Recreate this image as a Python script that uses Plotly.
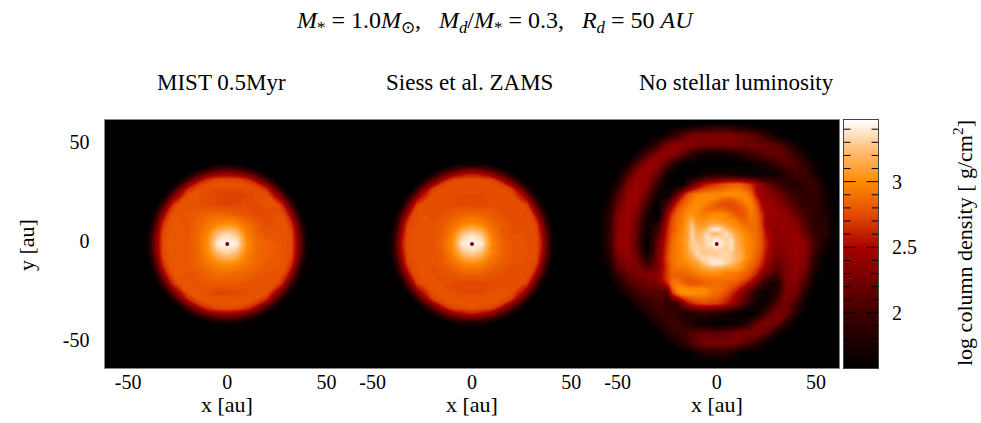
import numpy as np
import plotly.graph_objects as go

W, H = 981, 423

# log column density, rows from top to bottom
_ = 1.58
# disc grid: closer nodes around the disc rim so the rim stays round
DISC_X = [-42.5, -40, -37.5, -35, -32.5, -30, -27.5, -25, -20, -15, -10, -5, 0, 5, 10, 15, 20, 25, 27.5, 30, 32.5, 35, 37.5, 40, 42.5]
DISC_Y = DISC_X[::-1]
CORE_X = [-10, -7.5, -5, -2.5, 0, 2.5, 5, 7.5, 10]
CORE_Y = CORE_X[::-1]
# third panel has a grid that is finer inside +-25 au
NOLUM_X = [-60, -55, -50, -45, -40, -35, -30, -25, -22.5, -20, -17.5, -15, -12.5, -10, -7.5, -5, -2.5, 0,
           2.5, 5, 7.5, 10, 12.5, 15, 17.5, 20, 22.5, 25, 30, 35, 40, 45, 50, 55, 60]
NOLUM_Y = NOLUM_X[::-1]

mist = [
    [_]*25,
    [_]*10 + [1.6,1.66,1.68,1.66,1.6] + [_]*10,
    [_]*9 + [1.65,1.85,2.05,2.1,2.05,1.85,1.65] + [_]*9,
    [_]*8 + [1.66,2.0,2.29,2.43,2.48,2.43,2.29,2.0,1.66] + [_]*8,
    [_]*7 + [1.6,1.98,2.38,2.65,2.74,2.75,2.74,2.65,2.38,1.98,1.6] + [_]*7,
    [_]*6 + [1.62,1.78,2.35,2.68,2.78,2.79,2.79,2.79,2.78,2.68,2.35,1.78,1.62] + [_]*6,
    [_]*5 + [1.62,1.82,2.17,2.65,2.78,2.78,2.76,2.75,2.76,2.78,2.78,2.65,2.17,1.82,1.62] + [_]*5,
    [_]*4 + [1.6,1.78,2.17,2.43,2.77,2.79,2.76,2.74,2.73,2.73,2.74,2.78,2.77,2.43,2.17,1.78,1.6] + [_]*4,
    [_]*3 + [1.66,1.98,2.35,2.65,2.77,2.8,2.78,2.76,2.74,2.73,2.74,2.76,2.76,2.8,2.77,2.65,2.35,1.98,1.66] + [_]*3,
    [_]*2 + [1.65,2.0,2.38,2.68,2.78,2.8,2.8,2.82,2.85,2.87,2.85,2.82,2.79,2.76,2.76,2.78,2.78,2.68,2.38,2.0,1.65] + [_]*2,
    [_,1.6,1.85,2.29,2.65,2.78,2.8,2.81,2.79,2.85,2.92,2.98,3.02,2.98,2.9,2.82,2.77,2.79,2.79,2.78,2.65,2.29,1.85,1.6,_],
    [_,1.66,2.05,2.43,2.74,2.79,2.81,2.82,2.8,2.87,2.98,3.25,3.35,3.25,2.95,2.85,2.79,2.8,2.8,2.79,2.74,2.43,2.05,1.66,_],
    [_,1.68,2.1,2.48,2.75,2.8,2.81,2.82,2.81,2.87,3.02,3.4,3.45,3.4,3.0,2.87,2.85,2.81,2.8,2.79,2.75,2.48,2.1,1.68,_],
    [_,1.66,2.05,2.43,2.74,2.79,2.81,2.82,2.81,2.85,2.98,3.2,3.3,3.2,2.96,2.87,2.84,2.81,2.8,2.79,2.74,2.43,2.05,1.66,_],
    [_,1.6,1.85,2.29,2.65,2.78,2.8,2.82,2.81,2.85,2.92,2.98,3.02,2.98,2.92,2.87,2.82,2.81,2.8,2.78,2.65,2.29,1.85,1.6,_],
    [_]*2 + [1.65,2.0,2.38,2.68,2.78,2.82,2.79,2.81,2.85,2.89,2.89,2.87,2.85,2.82,2.79,2.79,2.78,2.68,2.38,2.0,1.65] + [_]*2,
    [_]*3 + [1.66,1.98,2.35,2.65,2.77,2.81,2.79,2.81,2.82,2.82,2.82,2.79,2.77,2.79,2.77,2.65,2.35,1.98,1.66] + [_]*3,
    [_]*4 + [1.6,1.78,2.17,2.43,2.77,2.81,2.77,2.73,2.73,2.75,2.77,2.81,2.77,2.43,2.17,1.78,1.6] + [_]*4,
    [_]*5 + [1.62,1.82,2.17,2.65,2.78,2.8,2.8,2.8,2.8,2.8,2.78,2.65,2.17,1.82,1.62] + [_]*5,
    [_]*6 + [1.62,1.78,2.35,2.68,2.78,2.8,2.8,2.8,2.78,2.68,2.35,1.78,1.62] + [_]*6,
    [_]*7 + [1.6,1.98,2.38,2.65,2.74,2.76,2.74,2.65,2.38,1.98,1.6] + [_]*7,
    [_]*8 + [1.66,2.0,2.29,2.43,2.48,2.43,2.29,2.0,1.66] + [_]*8,
    [_]*9 + [1.65,1.85,2.05,2.1,2.05,1.85,1.65] + [_]*9,
    [_]*10 + [1.6,1.66,1.68,1.66,1.6] + [_]*10,
    [_]*25,
]

siess = [
    [_]*25,
    [_]*10 + [1.64,1.72,1.75,1.72,1.64] + [_]*10,
    [_]*9 + [1.71,1.99,2.15,2.2,2.15,1.99,1.71] + [_]*9,
    [_]*8 + [1.72,2.1,2.38,2.53,2.6,2.53,2.38,2.1,1.72] + [_]*8,
    [_]*7 + [1.65,2.09,2.46,2.72,2.76,2.78,2.76,2.72,2.46,2.09,1.65] + [_]*7,
    [_]*6 + [1.67,1.93,2.42,2.73,2.77,2.77,2.77,2.77,2.77,2.73,2.42,1.93,1.67] + [_]*6,
    [_]*5 + [1.67,1.97,2.27,2.72,2.77,2.77,2.77,2.77,2.77,2.77,2.77,2.72,2.27,1.97,1.67] + [_]*5,
    [_]*4 + [1.65,1.93,2.27,2.53,2.77,2.78,2.77,2.76,2.76,2.76,2.77,2.78,2.77,2.53,2.27,1.93,1.65] + [_]*4,
    [_]*3 + [1.72,2.09,2.42,2.72,2.77,2.78,2.77,2.76,2.75,2.74,2.75,2.77,2.77,2.78,2.77,2.72,2.42,2.09,1.72] + [_]*3,
    [_]*2 + [1.71,2.1,2.46,2.73,2.77,2.78,2.78,2.78,2.82,2.85,2.87,2.85,2.82,2.78,2.78,2.78,2.77,2.73,2.46,2.1,1.71] + [_]*2,
    [_,1.64,1.99,2.38,2.72,2.77,2.78,2.79,2.78,2.81,2.88,2.96,3.0,2.96,2.88,2.81,2.78,2.78,2.78,2.77,2.72,2.38,1.99,1.64,_],
    [_,1.72,2.15,2.53,2.76,2.78,2.79,2.8,2.78,2.83,2.96,3.25,3.35,3.25,2.94,2.83,2.78,2.78,2.78,2.78,2.76,2.53,2.15,1.72,_],
    [_,1.75,2.2,2.6,2.78,2.78,2.79,2.8,2.78,2.85,3.0,3.4,3.45,3.4,2.98,2.85,2.8,2.79,2.78,2.78,2.78,2.6,2.2,1.75,_],
    [_,1.72,2.15,2.53,2.76,2.78,2.79,2.79,2.78,2.82,2.96,3.2,3.3,3.2,2.96,2.85,2.8,2.79,2.78,2.78,2.76,2.53,2.15,1.72,_],
    [_,1.64,1.99,2.38,2.72,2.77,2.78,2.79,2.78,2.81,2.88,2.96,3.0,2.96,2.88,2.83,2.78,2.78,2.78,2.77,2.72,2.38,1.99,1.64,_],
    [_]*2 + [1.71,2.1,2.46,2.73,2.77,2.79,2.78,2.78,2.8,2.84,2.84,2.84,2.8,2.78,2.78,2.78,2.77,2.73,2.46,2.1,1.71] + [_]*2,
    [_]*3 + [1.72,2.09,2.42,2.72,2.77,2.79,2.78,2.76,2.74,2.74,2.74,2.76,2.76,2.78,2.77,2.72,2.42,2.09,1.72] + [_]*3,
    [_]*4 + [1.65,1.93,2.27,2.53,2.77,2.79,2.78,2.76,2.76,2.76,2.78,2.8,2.77,2.53,2.27,1.93,1.65] + [_]*4,
    [_]*5 + [1.67,1.97,2.27,2.72,2.78,2.79,2.79,2.79,2.79,2.79,2.78,2.72,2.27,1.97,1.67] + [_]*5,
    [_]*6 + [1.67,1.93,2.42,2.73,2.78,2.79,2.79,2.79,2.78,2.73,2.42,1.93,1.67] + [_]*6,
    [_]*7 + [1.65,2.09,2.46,2.72,2.76,2.78,2.76,2.72,2.46,2.09,1.65] + [_]*7,
    [_]*8 + [1.72,2.1,2.38,2.53,2.6,2.53,2.38,2.1,1.72] + [_]*8,
    [_]*9 + [1.71,1.99,2.15,2.2,2.15,1.99,1.71] + [_]*9,
    [_]*10 + [1.64,1.72,1.75,1.72,1.64] + [_]*10,
    [_]*25,
]

# cores need a finer grid than the discs
mist_core = [
    [2.92,2.95,2.98,3.0,3.02,3.0,2.98,2.95,2.9],
    [2.95,3.0,3.08,3.15,3.18,3.15,3.08,3.0,2.92],
    [2.98,3.08,3.2,3.3,3.33,3.3,3.2,3.08,2.95],
    [3.0,3.15,3.3,3.42,3.45,3.42,3.3,3.15,2.98],
    [3.02,3.18,3.33,3.45,3.47,3.45,3.33,3.18,3.0],
    [3.0,3.15,3.3,3.42,3.45,3.42,3.3,3.15,2.98],
    [2.98,3.08,3.2,3.3,3.33,3.3,3.2,3.08,2.96],
    [2.95,3.0,3.08,3.15,3.18,3.15,3.08,3.0,2.94],
    [2.92,2.95,2.98,3.0,3.02,3.0,2.98,2.95,2.92],
]
siess_core = [
    [2.88,2.92,2.96,2.98,3.0,2.98,2.96,2.92,2.88],
    [2.92,2.98,3.06,3.12,3.16,3.12,3.06,2.98,2.9],
    [2.96,3.06,3.18,3.28,3.32,3.28,3.18,3.06,2.94],
    [2.98,3.12,3.28,3.42,3.45,3.42,3.28,3.12,2.96],
    [3.0,3.16,3.32,3.45,3.47,3.45,3.32,3.16,2.98],
    [2.98,3.12,3.28,3.42,3.45,3.42,3.28,3.12,2.96],
    [2.96,3.06,3.18,3.28,3.32,3.28,3.18,3.06,2.94],
    [2.92,2.98,3.06,3.12,3.16,3.12,3.06,2.98,2.9],
    [2.88,2.92,2.96,2.98,3.0,2.98,2.96,2.92,2.88],
]

nolum = [
    [_]*7 + [_,_,_,_,1.6,1.62,1.65,1.7,1.75,1.8,1.85,1.83,1.8,1.75,1.7,1.66,1.62,_,_,_,_] + [_]*7,
    [_]*7 + [1.75,1.88,2.0,2.1,2.2,2.26,2.3,2.3,2.3,2.3,2.3,2.3,2.3,2.28,2.25,2.22,2.2,2.15,2.1,2.0,1.9] + [1.7,_,_,_,_,_,_],
    [_,_,_,_,_,1.7,1.95] + [2.3,2.36,2.38,2.38,2.38,2.34,2.3,2.28,2.28,2.29,2.3,2.3,2.3,2.29,2.28,2.26,2.25,2.25,2.25,2.24,2.22] + [2.15,1.95,1.7,_,_,_,_],
    [_,_,_,_,1.75,2.1,2.35] + [2.4,2.36,2.3,2.18,2.05,1.92,1.8,1.74,1.7,1.67,1.65,1.67,1.7,1.75,1.8,1.88,1.95,2.0,2.05,2.1,2.15] + [2.2,2.15,1.95,1.7,_,_,_],
    [_,_,_,1.7,2.15,2.42,2.4] + [2.1,1.92,1.75,1.62,_,_,_,_,_,_,_,_,_,_,_,1.6,1.6,1.65,1.7,1.75,1.8] + [1.95,2.1,2.1,1.9,1.65,_,_],
    [_,_,1.62,2.05,2.4,2.42,2.2] + [1.75,1.62,_,_,_,_,1.62,1.7,1.75,1.78,1.8,1.8,1.8,1.78,1.75,1.72,1.7,1.68,1.65,1.65,1.65] + [1.7,1.85,2.0,2.0,1.75,_,_],
    [_,_,1.8,2.3,2.45,2.35,1.95] + [1.6,_,_,1.62,1.9,2.15,2.35,2.5,2.6,2.66,2.7,2.76,2.8,2.83,2.85,2.82,2.75,2.65,2.5,2.38,2.25] + [2.05,1.9,1.85,1.95,1.95,1.65,_],
    [_,1.62,2.05,2.4,2.45,2.2,1.7] + [1.7,1.9,2.2,2.5,2.75,2.88,2.95,2.98,3.0,3.0,3.0,3.0,3.02,3.02,3.02,3.0,2.95,2.85,2.55,2.45,2.4] + [2.3,2.1,1.95,1.9,1.95,1.7,_],
    [_,1.66,2.12,2.42,2.44,2.1,1.65] + [1.85,2.15,2.45,2.7,2.85,2.92,2.98,3.0,3.0,2.98,2.95,2.88,2.85,2.85,2.9,2.95,3.0,2.92,2.7,2.48,2.42] + [2.35,2.18,2.0,1.92,1.92,1.72,_],
    [_,1.7,2.2,2.45,2.4,2.0,1.6] + [2.05,2.4,2.65,2.82,2.9,2.98,3.02,3.0,2.95,2.88,2.82,2.78,2.76,2.76,2.8,2.85,2.95,2.97,2.8,2.55,2.45] + [2.4,2.25,2.05,1.95,1.9,1.75,_],
    [_,1.75,2.25,2.45,2.35,1.9,_] + [2.25,2.55,2.78,2.88,2.95,3.02,3.02,2.95,2.88,2.85,2.85,2.85,2.82,2.78,2.76,2.8,2.88,2.95,2.85,2.6,2.45] + [2.42,2.32,2.12,1.98,1.9,1.78,_],
    [_,1.8,2.3,2.45,2.3,1.8,_] + [2.4,2.68,2.85,2.92,3.0,3.05,3.0,2.95,2.95,2.98,3.0,3.0,2.95,2.88,2.8,2.78,2.85,2.95,2.88,2.68,2.48] + [2.45,2.4,2.2,2.0,1.9,1.8,1.6],
    [_,1.82,2.32,2.45,2.25,1.75,1.62] + [2.5,2.75,2.88,2.92,3.05,3.12,3.02,3.0,3.02,3.05,3.05,3.02,3.0,2.98,2.92,2.85,2.85,2.92,2.88,2.7,2.45] + [2.42,2.4,2.28,2.05,1.9,1.82,1.6],
    [_,1.85,2.35,2.45,2.2,1.7,1.85] + [2.55,2.78,2.9,2.95,3.08,3.25,3.08,3.05,3.1,3.15,3.15,3.12,3.08,3.02,3.0,2.92,2.88,2.9,2.88,2.72,2.45] + [2.4,2.42,2.35,2.1,1.9,1.85,1.6],
    [_,1.85,2.35,2.45,2.18,1.66,1.95] + [2.6,2.8,2.9,2.98,3.1,3.3,3.15,3.15,3.22,3.38,3.42,3.35,3.2,3.12,3.05,3.0,2.92,2.9,2.88,2.75,2.5] + [2.38,2.42,2.38,2.15,1.92,1.85,1.6],
    [_,1.85,2.35,2.45,2.15,1.62,2.05] + [2.62,2.82,2.92,3.0,3.1,3.33,3.2,3.22,3.35,3.25,3.22,3.28,3.38,3.25,3.12,3.05,2.98,2.92,2.88,2.78,2.55] + [2.35,2.4,2.42,2.2,1.95,1.85,1.6],
    [_,1.85,2.38,2.45,2.12,1.6,2.15] + [2.65,2.85,2.95,3.02,3.1,3.32,3.25,3.25,3.35,3.35,3.4,3.35,3.3,3.35,3.15,3.08,3.0,2.95,2.88,2.78,2.58] + [2.35,2.4,2.44,2.28,1.98,1.8,_],
    [_,1.85,2.4,2.45,2.1,_,2.2] + [2.68,2.88,2.95,3.02,3.12,3.3,3.3,3.25,3.35,3.4,3.45,3.4,3.32,3.38,3.18,3.1,3.0,2.95,2.9,2.8,2.6] + [2.35,2.38,2.45,2.35,2.0,1.75,_],
    [_,1.82,2.35,2.42,2.15,1.65,2.22] + [2.7,2.9,2.95,3.0,3.1,3.28,3.32,3.28,3.3,3.32,3.35,3.32,3.3,3.35,3.2,3.12,3.0,2.95,2.88,2.78,2.58] + [2.32,2.36,2.45,2.35,1.95,1.7,_],
    [_,1.8,2.3,2.4,2.2,1.7,2.25] + [2.72,2.9,2.95,3.0,3.08,3.2,3.35,3.3,3.28,3.28,3.28,3.32,3.35,3.28,3.2,3.15,3.02,2.95,2.85,2.75,2.55] + [2.3,2.35,2.45,2.35,1.9,1.65,_],
    [_,1.75,2.25,2.38,2.25,1.85,2.25] + [2.75,2.9,2.95,2.98,3.05,3.12,3.22,3.35,3.35,3.38,3.38,3.35,3.32,3.3,3.2,3.15,3.02,2.92,2.82,2.7,2.5] + [2.25,2.32,2.44,2.32,1.85,1.6,_],
    [_,1.7,2.2,2.35,2.3,2.0,2.25] + [2.72,2.88,2.95,2.95,3.0,3.05,3.1,3.2,3.3,3.38,3.4,3.38,3.3,3.22,3.15,3.05,2.95,2.88,2.8,2.65,2.45] + [2.2,2.3,2.42,2.3,1.8,_,_],
    [_,1.62,2.1,2.28,2.3,2.15,2.28] + [2.7,2.88,2.92,2.9,2.92,2.98,3.02,3.08,3.12,3.15,3.15,3.12,3.1,3.08,3.05,3.0,2.9,2.82,2.72,2.55,2.35] + [2.15,2.3,2.41,2.25,1.75,_,_],
    [_,_,2.0,2.2,2.3,2.3,2.35] + [2.7,2.85,2.85,2.85,2.88,2.9,2.95,2.98,3.0,3.02,3.02,3.0,2.95,2.93,2.92,2.88,2.82,2.75,2.62,2.42,2.25] + [2.05,2.3,2.4,2.2,1.7,_,_],
    [_,_,1.88,2.12,2.22,2.28,2.32] + [2.72,2.85,2.88,2.82,2.8,2.82,2.85,2.88,2.9,2.9,2.92,2.92,2.92,2.9,2.88,2.82,2.75,2.62,2.45,2.25,2.05] + [1.9,2.3,2.38,2.1,1.65,_,_],
    [_,_,1.75,2.05,2.15,2.25,2.3] + [2.6,2.9,2.95,2.9,2.82,2.8,2.8,2.82,2.85,2.87,2.88,2.87,2.85,2.82,2.78,2.7,2.58,2.42,2.25,2.05,1.9] + [1.75,2.3,2.35,2.0,1.62,_,_],
    [_,_,1.65,1.92,2.08,2.18,2.2] + [2.3,2.8,3.0,3.02,3.0,2.98,2.98,2.98,2.95,2.92,2.9,2.88,2.82,2.75,2.65,2.52,2.35,2.18,2.0,1.85,1.75] + [1.8,2.3,2.3,1.9,_,_,_],
    [_,_,_,1.8,2.0,2.1,2.1] + [2.1,2.6,2.88,3.0,3.03,3.03,3.02,3.0,2.98,2.9,2.88,2.82,2.75,2.65,2.52,2.38,2.2,2.0,1.85,1.72,1.65] + [1.9,2.3,2.25,1.8,_,_,_],
    [_,_,_,_,1.8,1.95,2.05] + [1.95,1.95,2.0,2.25,2.5,2.62,2.7,2.74,2.75,2.73,2.72,2.66,2.58,2.48,2.35,2.2,2.05,1.85,1.72,1.68,1.7] + [2.1,2.3,2.05,1.65,_,_,_],
    [_,_,_,_,_,1.8,1.95] + [2.0,1.95,1.9,1.85,1.8,1.82,1.85,1.88,1.9,1.88,1.85,1.8,1.75,1.7,1.65,1.6,_,1.6,1.65,1.85,2.05] + [2.3,2.25,1.85,_,_,_,_],
    [_,_,_,_,_,_,1.8] + [1.95,2.0,2.0,1.92,1.85,1.78,1.7,1.67,1.65,1.62,_,1.6,1.62,1.65,1.7,1.78,1.85,2.0,2.2,2.28,2.32] + [2.25,1.9,_,_,_,_,_],
    [_]*7 + [1.8,1.88,1.95,2.0,2.05,2.1,2.15,2.18,2.2,2.18,2.15,2.18,2.2,2.25,2.3,2.3,2.3,2.3,2.3,2.22,2.15] + [1.8,_,_,_,_,_,_],
    [_]*7 + [_,1.65,1.75,1.85,1.95,2.08,2.2,2.25,2.3,2.3,2.3,2.3,2.3,2.29,2.28,2.22,2.15,2.05,1.95,1.82,1.7] + [_]*7,
    [_]*7 + [_,_,_,_,1.6,1.66,1.75,1.8,1.85,1.88,1.9,1.88,1.85,1.78,1.72,1.62,_,_,_,_,_] + [_]*7,
    [_]*35,
]

STAR_X = [0]
STAR_Y = [0]
CBAR_TICKS = [2, 2.5, 3]
CBAR_LABELS = ["2", "2.5", "3"]
CBAR_MINOR = [1.6, 1.7, 1.8, 1.9, 2.1, 2.2, 2.3, 2.4, 2.6, 2.7, 2.8, 2.9, 3.1, 3.2, 3.3, 3.4]
Z_MIN, Z_MAX = 1.58, 3.47
PANEL_TICKS = [-50, 0, 50]
PANEL_LABELS = ["-50", "0", "50"]
PANEL_TITLES = ["MIST 0.5Myr", "Siess et al. ZAMS", "No stellar luminosity"]

SCALE = [
    [0.0, "#000000"], [0.22, "#3c0000"], [0.487, "#a80000"], [0.62, "#e34a00"],
    [0.75, "#ff8a00"], [0.885, "#ffc07c"], [1.0, "#ffffff"],
]
FONT = "Liberation Serif"
TOP, BOTTOM = 120, 368
# panels overlap by a pixel, otherwise a hairline of page shows between them
PANELS_PX = [(104.5, 350), (349, 595), (594, 839.5)]
CBAR_PX = (844, 878)
EDGE = "#888888"


def fx(px):
    return px / W


def fy(px):
    return 1 - px / H


fig = go.Figure()


def add_map(z, xs, ys, n):
    # filled contours with line smoothing keep the coarse discs round
    fig.add_trace(go.Contour(z=z, x=xs, y=ys, xaxis=f"x{n}", yaxis=f"y{n}", zmin=Z_MIN, zmax=Z_MAX, zauto=False,
                             colorscale=SCALE, showscale=False, hoverinfo="skip",
                             contours=dict(coloring="fill", start=1.6, end=3.46, size=0.02, showlines=False),
                             line=dict(width=0, smoothing=1.0)))


def add_core(z, n):
    # a contour patch leaves a dark hairline round it, the heatmap does not
    fig.add_trace(go.Heatmap(z=z, x=CORE_X, y=CORE_Y, xaxis=f"x{n}", yaxis=f"y{n}", zmin=Z_MIN, zmax=Z_MAX,
                             colorscale=SCALE, zsmooth="best", showscale=False, hoverinfo="skip"))


add_map(mist, DISC_X, DISC_Y, 1)
add_core(mist_core, 1)
add_map(siess, DISC_X, DISC_Y, 2)
add_core(siess_core, 2)
add_map(nolum, NOLUM_X, NOLUM_Y, 3)

for n in (1, 2, 3):
    fig.add_trace(go.Scatter(x=STAR_X, y=STAR_Y, xaxis=f"x{n}", yaxis=f"y{n}", mode="markers",
                             marker=dict(size=4, color="#8a0000"), showlegend=False, hoverinfo="skip"))

# colour bar drawn as its own little axis
levels = np.linspace(Z_MIN, Z_MAX, 150)
fig.add_trace(go.Heatmap(z=[[v, v] for v in levels], x=[0, 1], y=levels, xaxis="x4", yaxis="y4", zmin=Z_MIN, zmax=Z_MAX,
                         colorscale=SCALE, zsmooth="best", showscale=False, hoverinfo="skip"))


def tick_marks(vals, frac):
    # little black marks on both sides of the colour bar, on top of the heatmap
    xs, ys = [], []
    for v in vals:
        xs += [0, frac, None, 1 - frac, 1, None]
        ys += [v, v, None, v, v, None]
    fig.add_trace(go.Scatter(x=xs, y=ys, xaxis="x4", yaxis="y4", mode="lines", line=dict(color="black", width=1),
                             showlegend=False, hoverinfo="skip"))


tick_marks(CBAR_TICKS, 0.34)
tick_marks(CBAR_MINOR, 0.19)

# top ticks of the panels, only the one over the ring really shows
for n in (1, 2, 3):
    xs, ys = [], []
    for v in PANEL_TICKS:
        xs += [v, v, None]
        ys += [62.5, 59.5, None]
    fig.add_trace(go.Scatter(x=xs, y=ys, xaxis=f"x{n}", yaxis=f"y{n}", mode="lines", line=dict(color="black", width=1),
                             showlegend=False, hoverinfo="skip"))

layout = dict(
    width=W, height=H, margin=dict(l=0, r=0, t=0, b=0), paper_bgcolor="white", plot_bgcolor="black",
    font=dict(family=FONT, size=20, color="black"), showlegend=False,
)
for i, (x0, x1) in enumerate(PANELS_PX):
    n = "" if i == 0 else str(i + 1)
    layout["xaxis" + n] = dict(
        domain=[fx(x0), fx(x1)], range=[-61.9, 61.9], tickvals=PANEL_TICKS, ticktext=PANEL_LABELS, ticks="inside",
        ticklen=6, tickcolor="black", showgrid=False, zeroline=False, showline=True, linecolor=EDGE, linewidth=1,
        mirror=True, anchor="y" + n, tickfont=dict(size=20), ticklabelstandoff=-4,
    )
    layout["yaxis" + n] = dict(
        domain=[fy(BOTTOM), fy(TOP)], range=[-62.5, 62.5], tickvals=PANEL_TICKS, ticktext=PANEL_LABELS, ticks="inside",
        ticklen=6, tickcolor="black", showgrid=False, zeroline=False, showline=i == 0, linecolor=EDGE, linewidth=1,
        anchor="x" + n, showticklabels=i == 0, tickfont=dict(size=20), ticklabelshift=-3, ticklabelstandoff=10,
    )
layout["xaxis4"] = dict(domain=[fx(CBAR_PX[0]), fx(CBAR_PX[1])], range=[0, 1], showticklabels=False, ticks="",
                        showgrid=False, zeroline=False, showline=True, linecolor="#444444", mirror=True, anchor="y4")
layout["yaxis4"] = dict(domain=[fy(BOTTOM), fy(TOP)], range=[Z_MIN, Z_MAX], side="right", tickvals=CBAR_TICKS,
                        ticktext=CBAR_LABELS, ticks="", showgrid=False, zeroline=False, showline=True,
                        linecolor="#444444", mirror=True, anchor="x4", tickfont=dict(size=20), ticklabelstandoff=9)
fig.update_layout(**layout)


def label(text, x, y, size=22, angle=0):
    fig.add_annotation(text=text, x=fx(x), y=fy(y), xref="paper", yref="paper", showarrow=False,
                       font=dict(family=FONT, size=size), textangle=angle, xanchor="center", yanchor="middle")


for title, xc in zip(PANEL_TITLES, (221.5, 469.5, 736.5)):
    label(title, xc, 82, size=23)
for xc in (227, 472, 717):
    label("x [au]", xc, 404)
label("y [au]", 27, 245, angle=-90)
label("log column density [ g/cm<sup>2</sup>]", 963, 243, angle=-90)
label("<i>M</i><sub>*</sub> = 1.0<i>M</i><sub>⊙</sub>,&nbsp;&nbsp;&nbsp;<i>M<sub>d</sub></i>/<i>M</i><sub>*</sub> = 0.3,"
      "&nbsp;&nbsp;&nbsp;<i>R<sub>d</sub></i> = 50 <i>AU</i>", 495, 22, size=24)

fig.write_html("out.html", config=dict(displayModeBar=False), post_script="document.body.style.margin='0';")
